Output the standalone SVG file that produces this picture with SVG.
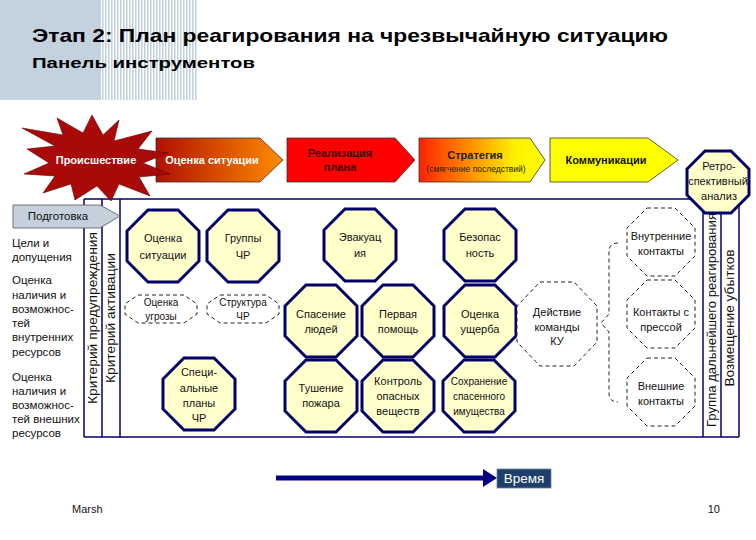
<svg xmlns="http://www.w3.org/2000/svg" xmlns:xlink="http://www.w3.org/1999/xlink" width="756" height="540" viewBox="0 0 756 540">
<style>
text{font-family:"Liberation Sans",Arial,sans-serif}
.t{font-size:11px;fill:#111;text-anchor:middle}
.ts{font-size:10px;fill:#111;text-anchor:middle}
.l{font-size:11.5px;fill:#111}
.b{font-weight:bold;font-size:11px;text-anchor:middle}
.v{font-size:13px;fill:#111;text-anchor:middle}
.solid{fill:#ffffcc;stroke:#000066;stroke-width:3}
.dash{fill:#ffffff;stroke:#222;stroke-width:1;stroke-dasharray:4 3}
.frame{stroke:#000066;stroke-width:1.5;fill:none}
.arr{stroke:#333;stroke-width:0.8}
</style>
<defs>
<path id="oct" d="M-15,-36 L15,-36 L36,-15 L36,15 L15,36 L-15,36 L-36,15 L-36,-15 Z"/>
<path id="octS" d="M-23,-14 L23,-14 L36,-5 L36,5 L23,14 L-23,14 L-36,5 L-36,-5 Z"/>
<path id="octM" d="M-14,-34 L14,-34 L34,-14 L34,14 L14,34 L-14,34 L-34,14 L-34,-14 Z"/>
<path id="octL" d="M-17,-42 L17,-42 L40,-18 L40,18 L17,42 L-17,42 L-40,18 L-40,-18 Z"/>
<linearGradient id="gOrange" x1="0" y1="0" x2="1" y2="0">
<stop offset="0" stop-color="#b01000"/><stop offset="1" stop-color="#ff8c00"/>
</linearGradient>
<linearGradient id="gYellow" x1="0" y1="0" x2="1" y2="0">
<stop offset="0" stop-color="#ff2200"/><stop offset="0.75" stop-color="#ffee00"/><stop offset="1" stop-color="#ffff00"/>
</linearGradient>
<pattern id="stripes" width="3" height="4" patternUnits="userSpaceOnUse">
<rect x="0" y="0" width="1.6" height="4" fill="#c4d2e0"/>
</pattern>
</defs>

<g id="header">
<rect x="0" y="0" width="101" height="100" fill="#c4d2e0"/>
<rect x="101" y="0" width="97" height="100" fill="url(#stripes)"/>
<text x="32" y="42" font-size="19" font-weight="bold" fill="#000" textLength="636" lengthAdjust="spacingAndGlyphs">Этап 2: План реагирования на чрезвычайную ситуацию</text>
<text x="32" y="68" font-size="15" font-weight="bold" fill="#000" textLength="223" lengthAdjust="spacingAndGlyphs">Панель инструментов</text>
</g>

<g id="frame" class="frame">
<line x1="84" y1="199" x2="739" y2="199"/>
<line x1="84" y1="437" x2="739" y2="437"/>
<line x1="84" y1="199" x2="84" y2="437"/>
<line x1="102" y1="199" x2="102" y2="437"/>
<line x1="120" y1="199" x2="120" y2="437"/>
<line x1="703" y1="199" x2="703" y2="437"/>
<line x1="721" y1="199" x2="721" y2="437"/>
<line x1="739" y1="199" x2="739" y2="437"/>
</g>

<g id="vertical-labels">
<text class="v" transform="translate(97,318) rotate(-90)" textLength="172" lengthAdjust="spacingAndGlyphs">Критерий предупреждения</text>
<text class="v" transform="translate(115,318) rotate(-90)" textLength="130" lengthAdjust="spacingAndGlyphs">Критерий активации</text>
<text class="v" transform="translate(716,320) rotate(-90)" textLength="214" lengthAdjust="spacingAndGlyphs">Группа дальнейшего реагирования</text>
<text class="v" transform="translate(734,318) rotate(-90)" textLength="137" lengthAdjust="spacingAndGlyphs">Возмещение убытков</text>
</g>

<g id="left-list" class="l">
<text x="12" y="247">Цели и</text>
<text x="12" y="261">допущения</text>
<text x="12" y="284">Оценка</text>
<text x="12" y="299">наличия и</text>
<text x="12" y="313">возможнос-</text>
<text x="12" y="327">тей</text>
<text x="12" y="341">внутренних</text>
<text x="12" y="356">ресурсов</text>
<text x="12" y="381">Оценка</text>
<text x="12" y="395">наличия и</text>
<text x="12" y="409">возможнос-</text>
<text x="12" y="423">тей внешних</text>
<text x="12" y="437">ресурсов</text>
</g>

<g id="podgotovka">
<path d="M13,205 L100,205 L120,216 L100,228 L13,228 Z" fill="#c5d0dc" stroke="#555" stroke-width="0.8"/>
<text x="58" y="220" font-size="11.5" fill="#111" text-anchor="middle">Подготовка</text>
</g>

<g id="otsenka-situatsii-arrow">
<path class="arr" d="M156,138 L260,138 L283,160 L260,182 L156,182 Z" fill="url(#gOrange)"/>
<text class="b" x="212" y="164" fill="#fff">Оценка ситуации</text>
</g>

<g id="proisshestvie">
<path d="M119,120 L114,141 L152,131 L138,149 L168,153 L143,163 L170,174 L139,177 L150,196 L119,184 L111,201 L97,186 L75,200 L71,184 L43,193 L55,176 L24,174 L49,163 L27,149 L55,146 L22,128 L63,135 L57,118 L83,133 L92,115 L103,135 Z" fill="#a80a0a" stroke="#600" stroke-width="0.6"/>
<text class="b" x="96" y="164" fill="#fff">Происшествие</text>
</g>

<g id="realizatsiya">
<path class="arr" d="M287,138 L395,138 L415,160 L395,182 L287,182 Z" fill="#ff0000"/>
<text class="b" x="340" y="157" fill="#3a0000">Реализация</text>
<text class="b" x="340" y="171" fill="#3a0000">плана</text>
</g>

<g id="strategiya">
<path class="arr" d="M419,138 L530,138 L545,160 L530,182 L419,182 Z" fill="url(#gYellow)"/>
<text class="b" x="475" y="159" fill="#222">Стратегия</text>
<text x="476" y="172" font-size="8.5" fill="#222" text-anchor="middle">(смягчение последствий)</text>
</g>

<g id="kommunikatsii">
<path class="arr" d="M550,138 L648,138 L678,160 L648,182 L550,182 Z" fill="#ffff00"/>
<text class="b" x="606" y="164" fill="#111">Коммуникации</text>
</g>

<g id="connectors">
<path d="M618,243 Q609,243 609,252 L609,314 L601,323 L609,332 L609,393 Q609,402 618,402" fill="none" stroke="#222" stroke-width="1" stroke-dasharray="4 3"/>
<line x1="276" y1="478" x2="485" y2="478" stroke="#000080" stroke-width="5"/>
<polygon points="483,469 497,478 483,487" fill="#000080"/>
</g>

<g id="n-otsenka-sit">
<use xlink:href="#oct" x="163" y="246" class="solid"/>
<text class="t" x="163" y="242">Оценка</text>
<text class="t" x="163" y="259">ситуации</text>
</g>
<g id="n-gruppy">
<use xlink:href="#oct" x="243" y="246" class="solid"/>
<text class="t" x="243" y="242">Группы</text>
<text class="t" x="243" y="259">ЧР</text>
</g>
<g id="n-otsenka-ugrozy">
<use xlink:href="#octS" x="161" y="309" class="dash"/>
<text class="ts" x="161" y="306">Оценка</text>
<text class="ts" x="161" y="320">угрозы</text>
</g>
<g id="n-struktura">
<use xlink:href="#octS" x="243" y="309" class="dash"/>
<text class="ts" x="243" y="306">Структура</text>
<text class="ts" x="243" y="320">ЧР</text>
</g>
<g id="n-spets">
<use xlink:href="#oct" x="199" y="394" class="solid"/>
<text class="t" x="199" y="376">Специ-</text>
<text class="t" x="199" y="392">альные</text>
<text class="t" x="199" y="407">планы</text>
<text class="t" x="199" y="422">ЧР</text>
</g>
<g id="n-evakuatsiya">
<use xlink:href="#oct" x="360" y="245" class="solid"/>
<text class="t" x="360" y="241">Эвакуац</text>
<text class="t" x="360" y="257">ия</text>
</g>
<g id="n-bezopasnost">
<use xlink:href="#oct" x="480" y="245" class="solid"/>
<text class="t" x="480" y="241">Безопас</text>
<text class="t" x="480" y="257">ность</text>
</g>
<g id="n-spasenie">
<use xlink:href="#oct" x="321" y="321" class="solid"/>
<text class="t" x="321" y="318">Спасение</text>
<text class="t" x="321" y="333">людей</text>
</g>
<g id="n-pervaya">
<use xlink:href="#oct" x="398" y="321" class="solid"/>
<text class="t" x="398" y="318">Первая</text>
<text class="t" x="398" y="333">помощь</text>
</g>
<g id="n-otsenka-usherba">
<use xlink:href="#oct" x="480" y="321" class="solid"/>
<text class="t" x="480" y="318">Оценка</text>
<text class="t" x="480" y="333">ущерба</text>
</g>
<g id="n-tushenie">
<use xlink:href="#oct" x="321" y="396" class="solid"/>
<text class="t" x="321" y="392">Тушение</text>
<text class="t" x="321" y="407">пожара</text>
</g>
<g id="n-kontrol">
<use xlink:href="#oct" x="398" y="396" class="solid"/>
<text class="t" x="398" y="385">Контроль</text>
<text class="t" x="398" y="400">опасных</text>
<text class="t" x="398" y="415">веществ</text>
</g>
<g id="n-sokhranenie">
<use xlink:href="#oct" x="479" y="396" class="solid"/>
<text class="ts" x="479" y="385">Сохранение</text>
<text class="ts" x="479" y="400">спасенного</text>
<text class="ts" x="479" y="415">имущества</text>
</g>
<g id="n-deistvie">
<use xlink:href="#octL" x="557" y="324" class="dash"/>
<text class="t" x="557" y="316">Действие</text>
<text class="t" x="557" y="331">команды</text>
<text class="t" x="557" y="345">КУ</text>
</g>
<g id="n-vnutr">
<use xlink:href="#octM" x="661" y="242" class="dash"/>
<text class="t" x="661" y="240">Внутренние</text>
<text class="t" x="661" y="255">контакты</text>
</g>
<g id="n-pressa">
<use xlink:href="#octM" x="661" y="314" class="dash"/>
<text class="t" x="661" y="316">Контакты с</text>
<text class="t" x="661" y="331">прессой</text>
</g>
<g id="n-vneshn">
<use xlink:href="#octM" x="661" y="392" class="dash"/>
<text class="t" x="661" y="390">Внешние</text>
<text class="t" x="661" y="405">контакты</text>
</g>
<g id="n-retro">
<path d="M705,151 L731,151 L749,169 L749,195 L731,213 L705,213 L687,195 L687,169 Z" class="solid"/>
<text class="t" x="719" y="170" font-size="11.5">Ретро-</text>
<text class="t" x="718" y="185" font-size="11.5">спективный</text>
<text class="t" x="719" y="200" font-size="11.5">анализ</text>
</g>

<g id="vremya">
<rect x="497" y="469" width="54" height="19" fill="#1e3f6a" stroke="#6a86a8" stroke-width="0.8"/>
<text x="524" y="483" font-size="13.5" fill="#fff" text-anchor="middle">Время</text>
</g>

<g id="footer">
<text x="72" y="513" font-size="11" fill="#111">Marsh</text>
<text x="720" y="513" font-size="11" fill="#111" text-anchor="end">10</text>
</g>
</svg>
